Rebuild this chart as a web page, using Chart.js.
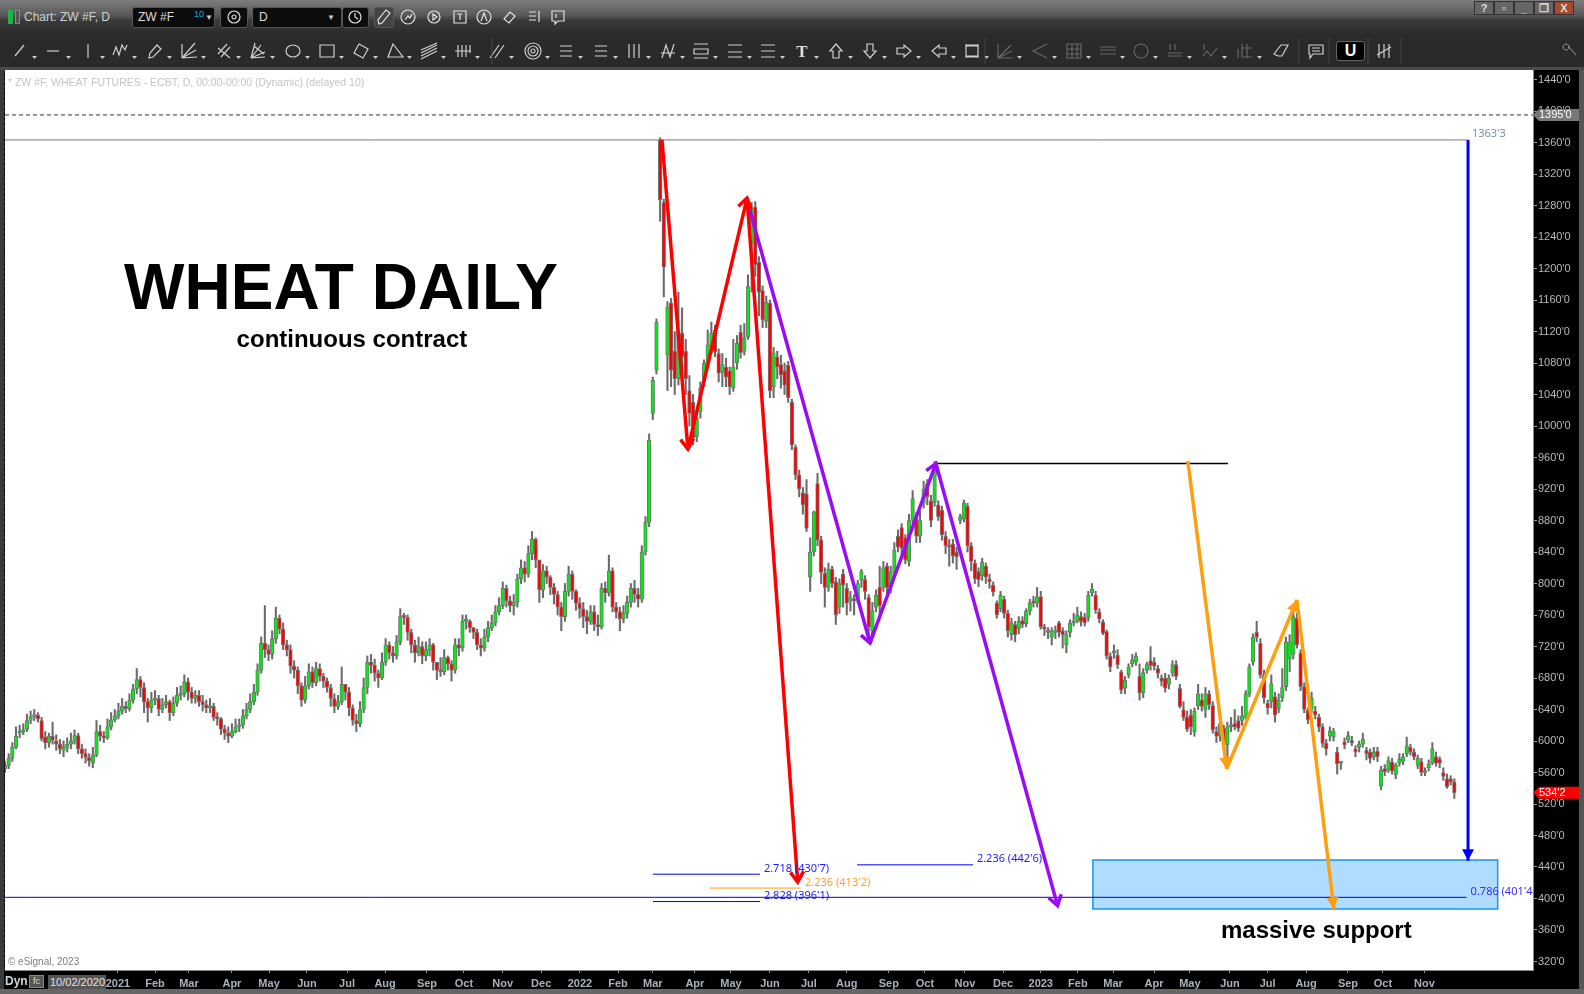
<!DOCTYPE html>
<html><head><meta charset="utf-8"><title>Wheat daily</title>
<script src="https://cdn.jsdelivr.net/npm/chart.js@4"></script>
<style>
html,body{margin:0;padding:0;background:#000;width:1584px;height:994px;overflow:hidden;font-family:"Liberation Sans",Arial,sans-serif}
canvas{position:absolute;left:0;top:0}
.a{position:absolute}
#bar1{left:0;top:0;width:1584px;height:34px;background:linear-gradient(#7c7c7c,#585858 45%,#3a3a3a 60%,#2c2c2c)}
#bar2{left:0;top:34px;width:1584px;height:33px;background:#2a2a2a}
#bar3{left:0;top:67px;width:1584px;height:3px;background:#4a4a4a}
#lf{left:0;top:70px;width:4px;height:924px;background:#3a3a3a}
#ld{left:4px;top:70px;width:0;height:900px;border-left:1px dashed #222}
#rf{left:1579px;top:70px;width:5px;height:924px;background:#555}
#bf{left:0;top:989px;width:1584px;height:5px;background:#666}
.box{background:#0c0c0c;border:1px solid #555;border-radius:3px;color:#ddd;font-size:12px;line-height:19px;box-sizing:border-box}
svg{position:absolute;left:0;top:0}
</style></head><body>
<canvas id="c" width="1584" height="994"></canvas>
<div class="a" id="bar1"></div><div class="a" id="bar2"></div><div class="a" id="bar3"></div>
<div class="a" id="lf"></div><div class="a" id="ld"></div><div class="a" id="rf"></div><div class="a" id="bf"></div>
<div class="a" style="left:8px;top:10px;width:5px;height:14px;background:#1db347"></div>
<div class="a" style="left:15px;top:10px;width:5px;height:14px;background:#555;border:1px solid #888;box-sizing:border-box"></div>
<div class="a" style="left:24px;top:10px;color:#cfcfcf;font-size:12px">Chart: ZW #F, D</div>
<div class="a box" style="left:132px;top:7px;width:83px;height:21px;padding-left:5px">ZW #F<span style="position:absolute;left:61px;top:-3px;color:#19a7e0;font-size:9px">10</span><span style="position:absolute;left:72px;top:0;color:#ccc;font-size:8px">▼</span></div>
<div class="a box" style="left:252px;top:7px;width:90px;height:21px;padding-left:6px">D<span style="position:absolute;left:74px;top:0;color:#ccc;font-size:8px">▼</span></div>
<div class="a box" style="left:220px;top:7px;width:28px;height:21px"></div>
<div class="a box" style="left:342px;top:7px;width:27px;height:21px"></div>
<div class="a box" style="left:374px;top:7px;width:20px;height:21px;background:#444"></div>
<div class="a" style="left:1474px;top:1px;width:100px;height:14px;display:flex;font-size:11px;font-weight:bold;color:#ddd;text-align:center;line-height:13px">
<span style="flex:1;background:#666;border:1px solid #333">?</span><span style="flex:1;background:#666;border:1px solid #333">▫</span><span style="flex:1;background:#666;border:1px solid #333">_</span><span style="flex:1;background:#666;border:1px solid #333">❐</span><span style="flex:1;background:#a5492f;border:1px solid #333">X</span></div>
<div class="a" style="left:1336px;top:41px;width:29px;height:20px;background:#000;border:1px solid #666;border-radius:3px;box-sizing:border-box;color:#fff;font-weight:bold;font-size:16px;text-align:center;line-height:18px">U</div>
<svg id="icons" width="1584" height="70"></svg>
<div class="a" style="left:5px;top:974px;color:#cfd6dc;font-size:12px;font-weight:bold">Dyn</div>
<div class="a" style="left:29px;top:975px;width:15px;height:13px;background:#555;border:1px solid #888;box-sizing:border-box;color:#ddd;font-size:9px;line-height:11px;text-align:center">fc</div>
<div class="a" style="left:48px;top:975px;width:58px;height:14px;background:#555;color:#e4e4e4;font-size:11px;line-height:15px;padding-left:2px;box-sizing:border-box;white-space:nowrap;overflow:hidden">10/02/2020</div>
<script>
// Each candle covers two trading sessions; x = 2 * index.
const opens=[
565,569,578,592,610,612,615,626,631,633,
626,605,598,606,600,596,588,592,596,600,
607,590,584,579,572,582,612,606,604,618,
627,632,638,644,641,652,666,678,668,650,
642,652,654,640,646,650,636,648,658,660,
675,662,654,658,650,646,642,644,630,628,
615,610,606,612,618,620,632,640,650,662,
690,724,716,710,730,756,742,722,716,695,
690,670,652,670,688,674,692,682,676,668,
654,644,650,672,662,642,626,622,640,668,
700,696,686,680,700,722,712,708,726,758,
757,738,722,712,720,708,716,722,700,690,
688,706,698,690,722,718,752,752,744,738,
722,718,732,744,750,764,772,794,778,772,
776,806,820,812,838,856,830,792,816,808,
795,786,770,758,790,812,790,775,768,758,
752,764,748,745,794,788,816,770,764,755,
762,776,794,786,780,840,878,1016,1071,1363,
1284,1090,1156,1095,1060,1118,1095,1045,1030,986,
1018,1056,1080,1100,1122,1092,1068,1075,1070,1048,
1080,1119,1095,1113,1232,1278,1208,1172,1133,1156,
1050,1088,1078,1070,1077,1030,973,938,915,914,
808,840,927,855,813,795,818,802,770,812,
794,778,780,780,805,805,782,740,770,795,
795,822,795,815,860,871,858,828,880,882,
860,902,927,905,903,900,893,860,848,850,
840,880,882,898,848,826,815,810,822,806,
798,775,768,780,762,735,748,742,753,749,
765,778,775,783,745,738,732,738,750,740,
722,738,750,752,758,757,757,788,785,764,
751,739,708,712,709,688,667,684,698,700,
682,661,690,702,700,692,680,680,672,686,
697,667,640,630,633,612,645,652,640,660,
645,612,606,616,595,618,622,626,626,630,
660,700,738,724,684,648,650,656,641,655,
669,704,710,756,712,669,639,640,638,630,
618,597,606,605,586,572,599,601,600,590,
592,596,588,586,580,587,543,565,563,573,
557,572,574,584,592,586,569,574,560,566,
572,580,577,560,552,552,548];
const closes=[
569,578,592,606,612,614,626,631,633,628,
603,598,606,601,596,590,592,596,600,607,
590,584,579,575,582,612,606,604,618,627,
632,638,644,641,652,666,678,668,650,642,
652,654,640,646,650,636,648,658,660,675,
662,654,658,650,646,642,644,630,628,615,
610,606,612,618,620,632,640,650,662,690,
724,716,710,730,756,742,722,716,695,690,
670,652,670,688,674,692,682,676,668,654,
644,650,672,662,642,626,622,640,668,700,
696,686,680,700,722,712,708,726,758,757,
738,722,712,720,708,716,722,700,690,688,
706,698,690,722,718,752,752,744,738,722,
718,732,744,750,764,772,794,778,772,776,
806,820,812,838,856,830,792,816,808,795,
786,770,758,790,812,790,775,768,758,752,
764,748,745,794,788,816,770,764,755,762,
776,794,786,780,840,878,982,1058,1132,1287,
1202,1151,1071,1060,1120,1088,1060,1016,985,1010,
1048,1080,1103,1118,1094,1067,1078,1062,1050,1075,
1105,1093,1112,1177,1277,1205,1170,1135,1157,1045,
1093,1075,1065,1052,1036,976,938,920,900,870,
840,891,855,814,795,818,800,760,800,798,
775,782,778,800,815,790,745,765,785,772,
820,795,815,842,846,845,830,880,908,860,
880,920,910,880,952,885,862,848,846,835,
834,885,902,848,828,806,805,827,808,802,
789,760,785,762,740,750,735,752,748,765,
775,775,783,745,742,740,740,741,738,735,
735,750,752,760,752,750,785,793,766,755,
737,708,694,714,697,665,677,694,703,708,
661,687,697,696,695,686,676,667,680,697,
682,644,630,615,618,638,660,644,660,646,
614,606,622,595,618,620,618,616,632,660,
694,732,732,684,655,642,673,633,652,668,
726,726,758,722,669,640,627,655,633,618,
597,590,613,612,571,572,595,607,598,586,
596,602,584,578,586,580,563,561,575,562,
569,577,580,594,586,580,578,560,562,571,
590,572,572,555,542,548,534.25];
const highs=[
574,584,598,618,620,622,634,638,640,636,
630,612,610,624,608,602,600,604,610,614,
610,596,590,584,592,626,620,612,628,636,
640,648,654,650,660,672,692,682,674,654,
662,664,658,654,658,652,656,668,670,684,
680,668,664,664,658,652,654,648,636,630,
620,618,622,628,628,640,648,660,672,698,
732,772,722,740,770,760,750,728,722,702,
694,674,682,698,694,700,698,686,680,672,
660,658,694,672,668,646,634,650,680,708,
710,704,690,712,730,726,720,734,768,762,
760,742,728,732,726,726,730,724,700,706,
716,708,702,730,730,760,760,754,744,742,
730,742,752,760,772,782,802,798,784,786,
812,830,828,848,866,858,804,824,822,810,
800,790,776,800,822,816,792,782,776,766,
772,772,760,800,802,836,820,776,770,772,
784,800,804,794,848,885,990,1062,1136,1366,
1288,1158,1162,1120,1170,1150,1110,1064,1040,1020,
1056,1084,1122,1132,1128,1098,1092,1086,1075,1110,
1115,1128,1130,1192,1284,1285,1215,1178,1165,1160,
1100,1095,1090,1080,1082,1034,976,944,922,932,
858,892,940,860,820,826,822,808,806,818,
800,790,786,804,818,810,786,776,792,822,
828,826,822,852,868,876,862,888,918,890,
892,930,932,912,955,905,898,866,856,856,
846,888,906,902,852,830,820,832,826,812,
802,778,790,784,766,756,752,758,758,768,
780,784,795,790,748,744,744,746,752,744,
740,754,762,770,764,762,790,800,790,768,
754,741,712,722,716,690,682,698,710,712,
698,692,700,720,706,696,684,686,684,702,
702,672,650,638,640,642,672,660,668,664,
650,618,630,620,624,630,640,632,644,664,
698,736,752,730,690,652,684,662,660,692,
732,735,770,762,716,674,642,662,644,634,
622,602,618,616,592,574,604,612,606,594,
600,610,592,590,592,592,568,570,580,578,
572,584,584,605,596,590,582,578,566,576,
598,586,580,566,558,556,552];
const lows=[
560,565,574,590,604,608,612,622,626,624,
600,590,592,596,588,584,580,586,590,596,
584,578,572,568,566,580,600,598,602,614,
624,628,634,636,638,648,660,656,636,624,
636,646,632,636,642,626,632,644,652,656,
652,648,648,644,638,636,636,626,620,608,
602,598,604,610,612,616,628,636,646,658,
686,706,702,704,724,736,716,708,686,680,
660,644,648,666,668,670,676,668,662,644,
636,640,646,652,632,620,612,618,636,660,
686,676,668,678,696,704,700,704,722,748,
728,712,700,708,698,702,708,690,678,682,
684,690,676,686,708,714,742,738,730,716,
708,714,726,740,746,760,768,770,764,760,
770,800,802,808,830,820,776,782,800,786,
774,760,740,752,784,780,766,756,744,736,
748,740,734,742,776,784,764,756,740,750,
756,770,776,770,776,836,872,1008,1066,1260,
1164,1045,1050,1040,1052,1066,1040,1000,976,980,
1010,1050,1074,1092,1088,1056,1050,1050,1040,1044,
1072,1086,1090,1110,1170,1190,1140,1125,1125,1036,
1036,1060,1048,1040,1030,970,932,910,888,866,
790,835,848,800,770,790,795,748,762,770,
760,765,760,775,795,780,730,736,764,760,
790,786,788,808,840,835,825,822,875,852,
852,896,900,872,898,880,855,838,822,826,
818,876,878,840,816,800,796,804,800,794,
784,756,764,756,732,728,726,736,744,745,
760,770,770,742,734,730,722,730,732,718,
712,732,746,750,746,746,752,784,762,750,
735,704,688,705,692,660,660,680,694,696,
652,655,686,690,690,680,670,662,666,682,
678,642,626,612,608,606,640,638,630,640,
610,598,600,588,572,612,614,612,620,628,
656,696,726,680,648,634,642,624,636,650,
664,688,704,718,664,636,622,636,628,612,
592,582,600,600,558,564,590,598,594,580,
586,592,576,572,576,574,538,556,560,558,
552,568,570,580,582,576,565,556,556,562,
570,568,566,550,540,544,527];

const priceTicks=[320,360,400,440,480,520,560,600,640,680,720,760,800,840,880,920,960,1000,1040,1080,1120,1160,1200,1240,1280,1320,1360,1400,1440];
const monthLabels=['2021','Feb','Mar','Apr','May','Jun','Jul','Aug','Sep','Oct','Nov','Dec','2022','Feb','Mar','Apr','May','Jun','Jul','Aug','Sep','Oct','Nov','Dec','2023','Feb','Mar','Apr','May','Jun','Jul','Aug','Sep','Oct','Nov'];
const monthSessions=[61.7,82,100.5,124,144.3,165,186.9,207.7,230.6,250.8,272,293,314.2,335,354,377,396.7,418,439.3,460,483,502.7,524.6,545.4,566,586.3,605.5,627.9,647.5,669.4,690,711,733.9,753,775.7];

const redPath=[[359,1363.25],[373.2,970.8],[405.5,1289.5],[433.2,421]];
const purplePath=[[405.5,1287],[472.7,724.4],[508.7,952.4],[575.2,390.9]];
const orangePath=[[646.4,955.6],[667.6,564.4],[706,779],[726.2,386.7]];
const bluePath=[[799.5,1363.25],[799.5,448]];
const supportZone=[594.5,815.7,386.7,448.9];
const levels=[
 {x:[0,799.5],y:1363.25,c:'#777777',w:1},
 {x:[0,835],y:1395,c:'#333333',w:1,dash:[4,3]},
 {x:[0,798.7],y:401.5,c:'#0000dd',w:1},
 {x:[354.1,412.6],y:430.875,c:'#0000ee',w:1},
 {x:[385.2,434.8],y:413.25,c:'#ff9f10',w:1},
 {x:[354.1,412.6],y:396.125,c:'#0000ee',w:1},
 {x:[465.6,529],y:442.75,c:'#0000ee',w:1},
 {x:[508.7,668.3],y:952.4,c:'#000000',w:1.5}];
const notes=[
 ['2.718 (430\'7)',414.7,437.5,'#1a1aff'],
 ['2.236 (413\'2)',437.2,419.7,'#ffa020'],
 ['2.828 (396\'1)',414.7,403.2,'#1a1aff'],
 ['2.236 (442\'6)',531.1,450.2,'#1a1aff'],
 ['0.786 (401\'4)',800.9,408.3,'#3a2cff'],
 ['1363\'3',801.6,1371,'#6f97a6']];
const SESSIONS=2;

const candleX=i=>i*SESSIONS;
const wicks=highs.map((h,i)=>({x:candleX(i),y:[lows[i],h]}));
const bodies=opens.map((o,i)=>({x:candleX(i),y:[Math.min(o,closes[i]),Math.max(o,closes[i])]}));
const bodyColors=opens.map((o,i)=>closes[i]>=o?'#00ee10':'#ff0000');
const pathSet=(pts,color,width,solid)=>pts.slice(0,-1).map((p,i)=>({type:'line',data:[{x:p[0],y:p[1]},{x:pts[i+1][0],y:pts[i+1][1]}],borderColor:color,borderWidth:width,pointRadius:0,order:1,arrow:true,solid,tension:0}));
const levelSets=levels.map(l=>({type:'line',data:[{x:l.x[0],y:l.y},{x:l.x[1],y:l.y}],borderColor:l.c,borderWidth:l.w,borderDash:l.dash||[],pointRadius:0,order:2}));

const chrome={id:'chrome',
 beforeDraw(ch){const g=ch.ctx,a=ch.chartArea;g.save();g.fillStyle='#000';g.fillRect(0,0,1584,994);g.fillStyle='#fff';g.fillRect(a.left,a.top,a.right-a.left,a.bottom-a.top);g.restore();},
 beforeDatasetsDraw(ch){const g=ch.ctx,X=ch.scales.x,Y=ch.scales.y,[x0,x1,y0,y1]=supportZone;
  g.save();g.fillStyle='#b0dcff';g.strokeStyle='#1c94f0';g.lineWidth=1.5;const l=X.getPixelForValue(x0),r=X.getPixelForValue(x1),t=Y.getPixelForValue(y1),b=Y.getPixelForValue(y0);g.fillRect(l,t,r-l,b-t);g.strokeRect(l,t,r-l,b-t);g.restore();},
 afterDatasetsDraw(ch){const g=ch.ctx,X=ch.scales.x,Y=ch.scales.y,a=ch.chartArea;g.save();
  ch.data.datasets.forEach(d=>{if(!d.arrow)return;const p=d.data[0],q=d.data[1];const x1=X.getPixelForValue(p.x),y1=Y.getPixelForValue(p.y),x2=X.getPixelForValue(q.x),y2=Y.getPixelForValue(q.y);const ang=Math.atan2(y2-y1,x2-x1),L=d.solid?13:12,S=d.solid?.48:.58;g.strokeStyle=d.borderColor;g.fillStyle=d.borderColor;g.lineWidth=d.borderWidth;g.lineCap='butt';g.lineJoin='miter';g.beginPath();g.moveTo(x2-L*Math.cos(ang-S),y2-L*Math.sin(ang-S));g.lineTo(x2,y2);g.lineTo(x2-L*Math.cos(ang+S),y2-L*Math.sin(ang+S));if(d.solid){g.closePath();g.fill();}else g.stroke();});
  g.beginPath();g.rect(a.left,a.top,a.right-a.left,a.bottom-a.top);g.clip();
  g.textBaseline='middle';g.textAlign='left';g.font='11px "Noto Sans","DejaVu Sans",sans-serif';
  notes.forEach(n=>{g.fillStyle=n[3];g.fillText(n[0],X.getPixelForValue(n[1]),Y.getPixelForValue(n[2]));});
  g.font='10.5px "Liberation Sans",Arial,sans-serif';g.fillStyle='#c4c4c4';g.fillText('* ZW #F, WHEAT FUTURES - ECBT, D, 00:00-00:00 (Dynamic) (delayed 10)',X.getPixelForValue(1.6),Y.getPixelForValue(1436));
  g.font='10px "Liberation Sans",Arial,sans-serif';g.fillStyle='#808080';g.fillText('© eSignal, 2023',X.getPixelForValue(1.6),Y.getPixelForValue(319));
  g.textBaseline='alphabetic';g.textAlign='center';g.fillStyle='#000';
  g.font='bold 64px "Liberation Sans",Arial,sans-serif';g.fillText('WHEAT DAILY',X.getPixelForValue(183.6),Y.getPixelForValue(1148.6));
  g.font='bold 24px "Liberation Sans",Arial,sans-serif';g.fillText('continuous contract',X.getPixelForValue(189.6),Y.getPixelForValue(1100));
  g.font='bold 24px "Liberation Sans",Arial,sans-serif';g.fillText('massive support',X.getPixelForValue(716.6),Y.getPixelForValue(350.2));
  g.restore();
  g.save();
  const tag=(v,txt,bg,fg)=>{const y=Y.getPixelForValue(v);g.fillStyle=bg;g.beginPath();g.moveTo(1533,y);g.lineTo(1539,y-6);g.lineTo(1579,y-6);g.lineTo(1579,y+6);g.lineTo(1539,y+6);g.closePath();g.fill();g.fillStyle=fg;g.font='11px "Liberation Sans",Arial,sans-serif';g.textAlign='left';g.textBaseline='middle';g.fillText(txt,1539,y+.5);};
  tag(1395,"1395'0",'#777777','#ffffff');
  tag(closes[closes.length-1],"534'2",'#ff0000','#ffffff');
  g.restore();}
};

const arrowSets=[...pathSet(redPath,'#ff0000',3.5,false),...pathSet(purplePath,'#9a0cf8',3.5,false),...pathSet(orangePath,'#ff9f10',3.5,true),...pathSet(bluePath,'#0000ff',3,true)];

new Chart(document.getElementById('c'),{
 type:'bar',
 data:{datasets:[
  ...arrowSets,...levelSets,
  {label:'bodies',data:bodies,backgroundColor:bodyColors,borderColor:'#737373',borderWidth:1,borderSkipped:false,barThickness:3.6,minBarLength:2,grouped:false,order:5},
  {label:'wicks',data:wicks,backgroundColor:'#6a6a6a',borderWidth:0,barThickness:1.4,grouped:false,order:6}
 ]},
 plugins:[chrome],
 options:{responsive:false,animation:false,
  layout:{padding:{left:5,top:70,right:0,bottom:0}},
  plugins:{legend:{display:false},tooltip:{enabled:false}},
  scales:{
   x:{type:'linear',min:0,max:835,offset:false,
    afterBuildTicks(s){s.ticks=monthSessions.map(v=>({value:v}));},
    afterFit(s){s.height=24;},
    grid:{drawOnChartArea:false,offset:false,color:'#999',tickLength:3},border:{color:'#888'},
    ticks:{autoSkip:false,maxRotation:0,minRotation:0,padding:4,color:'#a7b3bf',font:{family:'"Liberation Sans",Arial,sans-serif',size:11,weight:'bold'},callback:(v,i)=>monthLabels[i]}},
   y:{type:'linear',position:'right',min:309.2,max:1452.1,
    afterBuildTicks(s){s.ticks=priceTicks.map(v=>({value:v}));},
    afterFit(s){s.width=51;},
    grid:{drawOnChartArea:false,color:'#999',tickLength:4},border:{color:'#888'},
    ticks:{autoSkip:false,padding:1,color:'#b9b9b9',font:{family:'"Liberation Sans",Arial,sans-serif',size:11},callback:v=>v+"'0"}}
  }}
});

// window toolbar glyphs (decoration only)
const toolGlyphs=[[20,'M-5 5L4-6'],[54,'M-7 0H5'],[88,'M0-7V7'],[120,'M-7 4L-4-4L-1 4L2-6L5-1L7-6'],[155,'M-6 7L-5 2L2-6L6-2L-2 6Z'],[189,'M-7 7L6-8M-7 7L7-1M-7 7L8 6M-7 7V-7'],[224,'M-6 3L3-7M-3 6L6-4M-6-3L6 7'],[258,'M-7 7L-3-8M-7 7L3-6M-7 7L7 1M-7 7L7 6M-4-5L6 3'],[293,'M7 0A7 6 0 1 1-7 0A7 6 0 1 1 7 0'],[327,'M-7-6H7V6H-7Z'],[361,'M-2-7L7-2L2 7L-7 2Z'],[395,'M-2-7L8 6H-7Z'],[429,'M-8 2L8-6M-8 5L8-3M-8 8L8 0M-8-1L8-8'],[463,'M-8 0H8M-5-6V6M-1-6V6M3-6V6M7-6V2'],[497,'M-7 7L2-6M-2 7L7-6'],[533,'M8 0A8 8 0 1 1-8 0A8 8 0 1 1 8 0M5 0A5 5 0 1 1-5 0A5 5 0 1 1 5 0M2 0A2 2 0 1 1-2 0A2 2 0 1 1 2 0'],[566,'M-6-5H6M-6 0H6M-6 5H6'],[601,'M-6-5H6M-6 0H6M-6 5H6'],[634,'M-5-7V7M0-7V7M5-7V7'],[668,'M-6 7L-2-6L2 6L6-7M-7 2H7'],[701,'M-7-7H7M-7 7H7M-7-2H7V3H-7Z'],[735,'M-7-6H7M-7 1H7M-7 6H7'],[768,'M-7-6H7M-7 0H7M-7 6H7'],[836,'M0-7L6 0H3V7H-3V0H-6Z'],[870,'M0 7L6 0H3V-7H-3V0H-6Z'],[904,'M7 0L0-6V-3H-7V3H0V6Z'],[939,'M-7 0L0-6V-3H7V3H0V6Z'],[972,'M-7-6H7M-7 6H7M-6-5H6V5H-6Z'],[1281,'M-7 3L0-6H7L1 5H-3Z'],[1316,'M-7-6H7V3H-3L-6 7V3H-7ZM-4-3H4M-4 0H4'],[1384,'M-5-7V7M0-7V7M5-7V7M-7 4L7-4']];
const dimGlyphs=[[1005,'M-7 7V-7M-7 7H7M-7 7L6-6M-7 7L7 0'],[1040,'M7-7L-7 0L7 7'],[1074,'M-7-7H7V7H-7ZM-7-2H7M-7 3H7M-2-7V7M3-7V7'],[1108,'M-8-4H8M-8-1H8M-8 3H8'],[1141,'M7 0A7 7 0 1 1-7 0A7 7 0 1 1 7 0'],[1175,'M-7 2H7M-7 5H7M-5-7V-1M0-7V-1'],[1210,'M-7 5L-3 0L1 5L7-3M-6-7V-1'],[1245,'M-7-2V7M-3-7V6H7M-3-3H7M2-7V7']];
const topGlyphs=[[234,'M6 0A6 6 0 1 1-6 0A6 6 0 1 1 6 0M2 0A2 2 0 1 1-2 0A2 2 0 1 1 2 0'],[355,'M6 0A6 6 0 1 1-6 0A6 6 0 1 1 6 0M0-4V0L3 2'],[384,'M-5 7L-6 3L2-7L6-4L-2 6Z'],[408,'M7 0A7 7 0 1 1-7 0A7 7 0 1 1 7 0M-3 3L0-1L2 1L4-3'],[434,'M6 0A6 6 0 1 1-6 0A6 6 0 1 1 6 0M-1-3L3 0L-1 3Z'],[460,'M-6-6H6V6H-6ZM-3-3H2M0-3V3'],[484,'M7 0A7 7 0 1 1-7 0A7 7 0 1 1 7 0M-3 4L0-4L3 4'],[510,'M-6 2L0-5L5-1L-1 6Z'],[535,'M-6-5H1M-6-1H1M-6 3H1M4-6V5'],[558,'M-6-6H6V4H0L-3 7V4H-6ZM-2-3V1']];
const pth=(x,y,d,c)=>`<path transform="translate(${x} ${y})" d="${d}" fill="none" stroke="${c}" stroke-width="1.2"/>`;
let out=toolGlyphs.map(g=>pth(g[0],51,g[1],'#cfcfcf')).join('')+dimGlyphs.map(g=>pth(g[0],51,g[1],'#666')).join('')+topGlyphs.map(g=>pth(g[0],17,g[1],'#e0e0e0')).join('');
out+=[...toolGlyphs,...dimGlyphs,[802,'']].filter(g=>g[0]!==1281&&g[0]!==1316&&g[0]!==1384).map(g=>`<path d="M${g[0]+12} 56h5l-2.5 3z" fill="#ccc"/>`).join('');
out+=`<text x="802" y="57" fill="#ddd" font-size="17" font-weight="bold" text-anchor="middle" font-family="Liberation Serif,serif">T</text>`;
out+=`<path d="M1568 46l8 9M1566 44a3 3 0 1 0 .1 0" fill="none" stroke="#999"/>`;
out+=`<path d="M492 38V64M985 38V64M1299 38V64M1329 38V64M1368 38V64M1401 38V64" stroke="#444"/>`;
document.getElementById('icons').innerHTML=out;
</script>
</body></html>
